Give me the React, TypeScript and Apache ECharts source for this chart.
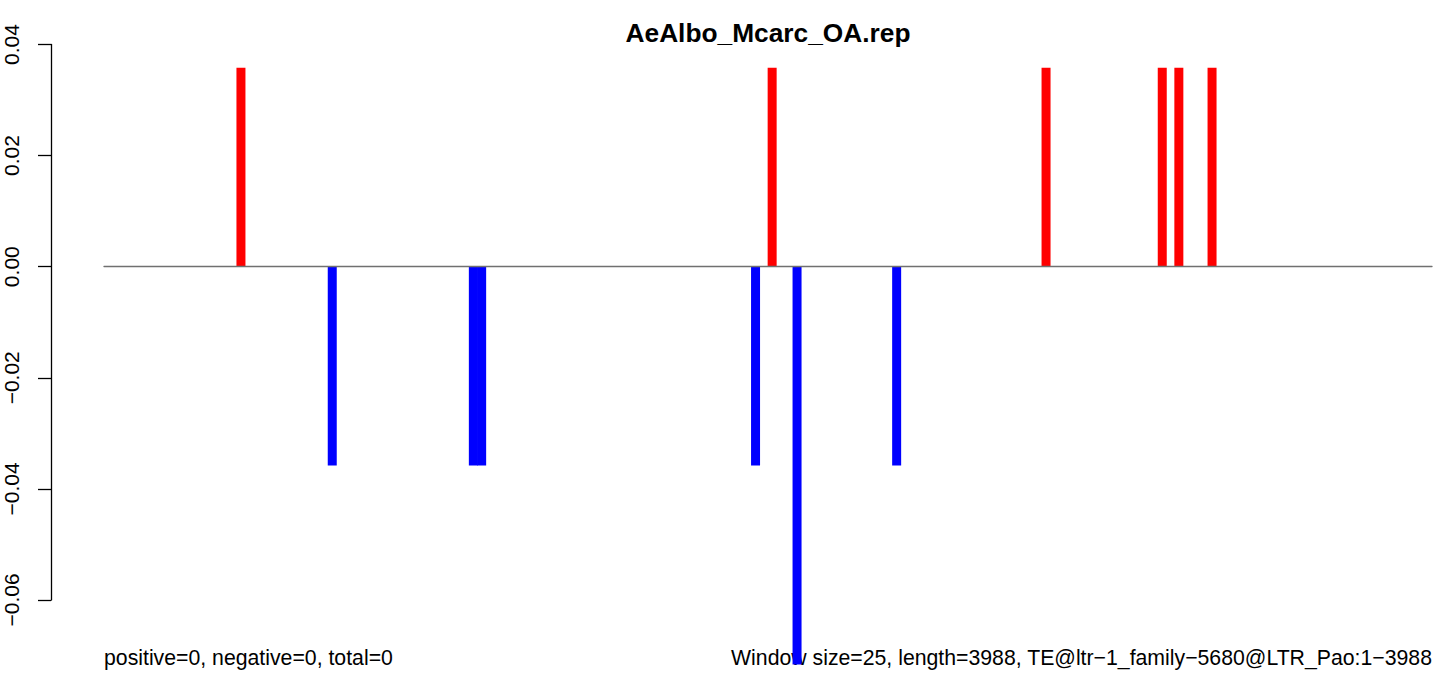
import React, { useEffect, useRef } from "react";
import * as echarts from "echarts";

// Window indices (0-based, window size 25, 160 windows over 3988 bp)
const windowCount = 160;
const positiveWindows = [16, 80, 113, 127, 129, 133];
const positiveValues = [0.0358, 0.0358, 0.0358, 0.0358, 0.0358, 0.0358];
const negativeWindows = [27, 44, 45, 78, 83, 95];
const negativeValues = [-0.0358, -0.0358, -0.0358, -0.0358, -0.0716, -0.0358];
const yTicks = [-0.06, -0.04, -0.02, 0.0, 0.02, 0.04];

const titleText = "AeAlbo_Mcarc_OA.rep";
const leftNote = "positive=0, negative=0, total=0";
const rightNote = "Window size=25, length=3988, TE@ltr\u22121_family\u22125680@LTR_Pao:1\u22123988";

export default function App() {
  const ref = useRef<HTMLDivElement>(null);
  useEffect(() => {
    if (!ref.current) return;
    const chart = echarts.init(ref.current, undefined, { renderer: "svg" });
    const categories = Array.from({ length: windowCount }, (_, i) => String(i + 1));
    const pos: any[] = categories.map(() => "-");
    const neg: any[] = categories.map(() => "-");
    positiveWindows.forEach((w, i) => (pos[w] = positiveValues[i]));
    negativeWindows.forEach((w, i) => (neg[w] = negativeValues[i]));
    const font = '"Liberation Sans", Arial, Helvetica, sans-serif';
    chart.setOption({
      animation: false,
      backgroundColor: "#ffffff",
      grid: { left: 104, right: 17, top: 44.5, bottom: 77, containLabel: false },
      xAxis: {
        type: "category",
        data: categories,
        boundaryGap: true,
        axisLine: { show: true, onZero: true, lineStyle: { color: "#707070", width: 1.3 } },
        axisTick: { show: false },
        axisLabel: { show: false },
        splitLine: { show: false },
        z: 5,
      },
      yAxis: {
        type: "value",
        min: yTicks[0],
        max: yTicks[yTicks.length - 1],
        interval: 0.02,
        offset: 53,
        axisLine: { show: true, lineStyle: { color: "#000", width: 1.3 } },
        axisTick: { show: true, inside: false, length: 13, lineStyle: { color: "#000", width: 1.3 } },
        axisLabel: {
          rotate: 90,
          margin: 29,
          color: "#000",
          fontSize: 21,
          fontFamily: font,
          formatter: (v: number) => {
            const s = Math.abs(v).toFixed(2);
            return v < -1e-9 ? "\u2212" + s : s;
          },
        },
        splitLine: { show: false },
      },
      series: [
        {
          type: "bar",
          data: pos,
          barWidth: 9,
          barGap: "-100%",
          clip: false,
          itemStyle: { color: "#ff0000" },
        },
        {
          type: "bar",
          data: neg,
          barWidth: 9,
          barGap: "-100%",
          clip: false,
          itemStyle: { color: "#0000ff" },
        },
      ],
      graphic: [
        {
          type: "text",
          x: 768,
          y: 33,
          style: {
            text: titleText,
            font: `bold 26.3px ${font}`,
            textAlign: "center",
            textVerticalAlign: "middle",
            fill: "#000",
          },
        },
        {
          type: "text",
          x: 104,
          y: 658,
          style: {
            text: leftNote,
            font: `21.25px ${font}`,
            textAlign: "left",
            textVerticalAlign: "middle",
            fill: "#000",
          },
        },
        {
          type: "text",
          x: 1432,
          y: 658,
          style: {
            text: rightNote,
            font: `21.25px ${font}`,
            textAlign: "right",
            textVerticalAlign: "middle",
            fill: "#000",
          },
        },
      ],
    });
    return () => chart.dispose();
  }, []);
  return (
    <div
      ref={ref}
      style={{ position: "absolute", left: 0, top: 0, width: 1449, height: 677 }}
    />
  );
}
